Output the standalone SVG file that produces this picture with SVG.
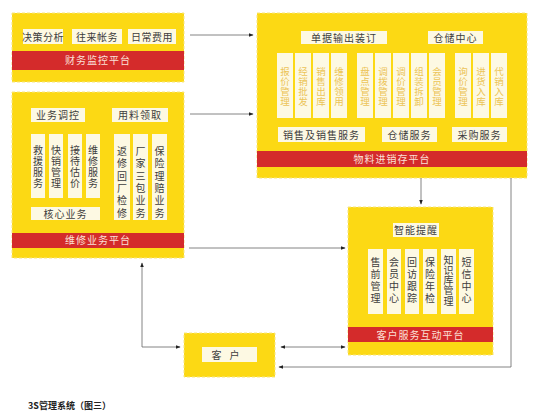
<svg xmlns="http://www.w3.org/2000/svg" width="541" height="419" viewBox="0 0 541 419">
<defs>
<marker id="ah" viewBox="0 0 8 8" refX="7" refY="4" markerWidth="5" markerHeight="5" orient="auto-start-reverse" markerUnits="userSpaceOnUse">
<path d="M0,1 L8,4 L0,7 z" fill="#222"/>
</marker>
<style>
.panel{fill:#fcd914;stroke:#f7e680;stroke-width:1;stroke-dasharray:3 2}
.bar{fill:#d42b2b}
.box{fill:#fdf9e3}
.t{font-family:"Noto Sans CJK SC","Noto Sans",sans-serif;font-size:10px;fill:#3d3d3d;text-anchor:middle}
.v{font-family:"Noto Sans CJK SC","Noto Sans",sans-serif;font-size:10px;fill:#3d3d3d;writing-mode:vertical-rl;text-anchor:start}
.bt{font-family:"Noto Sans CJK SC","Noto Sans",sans-serif;font-size:10px;fill:#fbe0d8;text-anchor:middle;letter-spacing:1px}
.ft{font-family:"Noto Sans CJK SC","Noto Sans",sans-serif;font-size:9.5px;fill:#ecc457;writing-mode:vertical-rl;text-anchor:start;letter-spacing:0.5px}
.conn{fill:none;stroke:#666;stroke-width:0.8}
</style>
</defs>
<rect width="541" height="419" fill="#ffffff"/>

<g id="finance">
<rect class="panel" x="12" y="13" width="172" height="69"/>
<rect class="box" x="23" y="29" width="40" height="15"/>
<text class="t" x="43" y="40.5" letter-spacing="0.5">决策分析</text>
<rect class="box" x="72" y="29" width="50" height="15"/>
<text class="t" x="97" y="40.5" letter-spacing="0.5">往来帐务</text>
<rect class="box" x="128" y="29" width="48" height="15"/>
<text class="t" x="152" y="40.5" letter-spacing="0.5">日常费用</text>
<rect class="bar" x="12" y="51" width="172" height="19"/>
<text class="bt" x="98" y="64">财务监控平台</text>
</g>

<g id="material">
<rect class="panel" x="257" y="13" width="270" height="165"/>
<rect class="box" x="301" y="31" width="86" height="13"/>
<text class="t" x="344" y="41.5" letter-spacing="1">单据输出装订</text>
<rect class="box" x="428" y="31" width="55" height="13"/>
<text class="t" x="455.5" y="41.5" letter-spacing="1">仓储中心</text>
<rect class="box" x="277" y="53" width="16" height="65"/>
<text class="ft" x="285" y="67">报价管理</text>
<rect class="box" x="295" y="53" width="16" height="65"/>
<text class="ft" x="303" y="67">经销批发</text>
<rect class="box" x="313" y="53" width="16" height="65"/>
<text class="ft" x="321" y="67">销售出库</text>
<rect class="box" x="331" y="53" width="16" height="65"/>
<text class="ft" x="339" y="67">维修领用</text>
<rect class="box" x="357" y="53" width="16" height="65"/>
<text class="ft" x="365" y="67">盘点管理</text>
<rect class="box" x="375" y="53" width="16" height="65"/>
<text class="ft" x="383" y="67">调拨管理</text>
<rect class="box" x="393" y="53" width="16" height="65"/>
<text class="ft" x="401" y="67">调价管理</text>
<rect class="box" x="411" y="53" width="16" height="65"/>
<text class="ft" x="419" y="67">组装拆卸</text>
<rect class="box" x="429" y="53" width="16" height="65"/>
<text class="ft" x="437" y="67">会员管理</text>
<rect class="box" x="455" y="53" width="16" height="65"/>
<text class="ft" x="463" y="67">询价管理</text>
<rect class="box" x="473" y="53" width="16" height="65"/>
<text class="ft" x="481" y="67">进货入库</text>
<rect class="box" x="491" y="53" width="16" height="65"/>
<text class="ft" x="499" y="67">代销入库</text>
<rect class="box" x="278" y="127" width="87" height="15"/>
<text class="t" x="321.5" y="138.5" letter-spacing="1">销售及销售服务</text>
<rect class="box" x="382" y="127" width="55" height="15"/>
<text class="t" x="409.5" y="138.5" letter-spacing="1">仓储服务</text>
<rect class="box" x="452" y="127" width="55" height="15"/>
<text class="t" x="479.5" y="138.5" letter-spacing="1">采购服务</text>
<rect class="bar" x="257" y="151" width="270" height="16"/>
<text class="bt" x="392" y="163">物料进销存平台</text>
</g>

<g id="repair">
<rect class="panel" x="12" y="92" width="172" height="166"/>
<rect class="box" x="31" y="108" width="54" height="14"/>
<text class="t" x="58" y="119" letter-spacing="1">业务调控</text>
<rect class="box" x="112" y="108" width="56" height="14"/>
<text class="t" x="140" y="119" letter-spacing="1">用料领取</text>
<rect class="box" x="31" y="134" width="14" height="64"/>
<text class="v" x="38" y="145" letter-spacing="1">救援服务</text>
<rect class="box" x="49" y="134" width="14" height="64"/>
<text class="v" x="56" y="145" letter-spacing="1">快销管理</text>
<rect class="box" x="68" y="134" width="14" height="64"/>
<text class="v" x="75" y="145" letter-spacing="1">接待估价</text>
<rect class="box" x="86" y="134" width="14" height="64"/>
<text class="v" x="93" y="145" letter-spacing="1">维修服务</text>
<rect class="box" x="31" y="207" width="69" height="13"/>
<text class="t" x="65.5" y="217.5" letter-spacing="1">核心业务</text>
<rect class="box" x="114" y="134" width="16" height="86"/>
<text class="v" x="122" y="146" letter-spacing="2.4">返修回厂检修</text>
<rect class="box" x="133" y="134" width="15" height="86"/>
<text class="v" x="140.5" y="146" letter-spacing="2.4">厂家三包业务</text>
<rect class="box" x="152" y="134" width="15" height="86"/>
<text class="v" x="159.5" y="146" letter-spacing="2.4">保险理赔业务</text>
<rect class="bar" x="12" y="233" width="172" height="15"/>
<text class="bt" x="98" y="244">维修业务平台</text>
</g>

<g id="customer-service">
<rect class="panel" x="348" y="207" width="145" height="148"/>
<rect class="box" x="393" y="223" width="46" height="14"/>
<text class="t" x="416" y="234" letter-spacing="1">智能提醒</text>
<rect class="box" x="368" y="249" width="15" height="65"/>
<text class="v" x="375.5" y="257" letter-spacing="2">售前管理</text>
<rect class="box" x="387" y="249" width="14" height="65"/>
<text class="v" x="394" y="257" letter-spacing="2">会员中心</text>
<rect class="box" x="405" y="249" width="14" height="65"/>
<text class="v" x="412" y="257" letter-spacing="2">回访跟踪</text>
<rect class="box" x="423" y="249" width="14" height="65"/>
<text class="v" x="430" y="257" letter-spacing="2">保险年检</text>
<rect class="box" x="441" y="249" width="15" height="65"/>
<text class="v" x="448.5" y="255" letter-spacing="0.2">知识库管理</text>
<rect class="box" x="459" y="249" width="15" height="65"/>
<text class="v" x="466.5" y="257" letter-spacing="2">短信中心</text>
<rect class="bar" x="348" y="327" width="145" height="15"/>
<text class="bt" x="420.5" y="338.5">客户服务互动平台</text>
</g>

<g id="customer">
<rect class="panel" x="184" y="333" width="91" height="44"/>
<rect class="box" x="202" y="347" width="55" height="15"/>
<text class="t" x="229.5" y="358.5" letter-spacing="8">客户</text>
</g>

<g id="connectors">
<path class="conn" d="M190,35 H253" marker-end="url(#ah)"/>
<path class="conn" d="M190,114 H253" marker-end="url(#ah)"/>
<path class="conn" d="M189,248 H345" marker-end="url(#ah)"/>
<path class="conn" d="M421,178 V204" marker-end="url(#ah)"/>
<path class="conn" d="M511,178 V367 H279" marker-end="url(#ah)"/>
<path class="conn" d="M281,347 H345" marker-start="url(#ah)" marker-end="url(#ah)"/>
<path class="conn" d="M180,347 H142 V263" marker-start="url(#ah)" marker-end="url(#ah)"/>
</g>

<text x="28" y="409" font-family="'Noto Sans CJK SC','Liberation Serif',serif" font-size="9" font-weight="bold" fill="#222">3S管理系统（图三）</text>
</svg>
